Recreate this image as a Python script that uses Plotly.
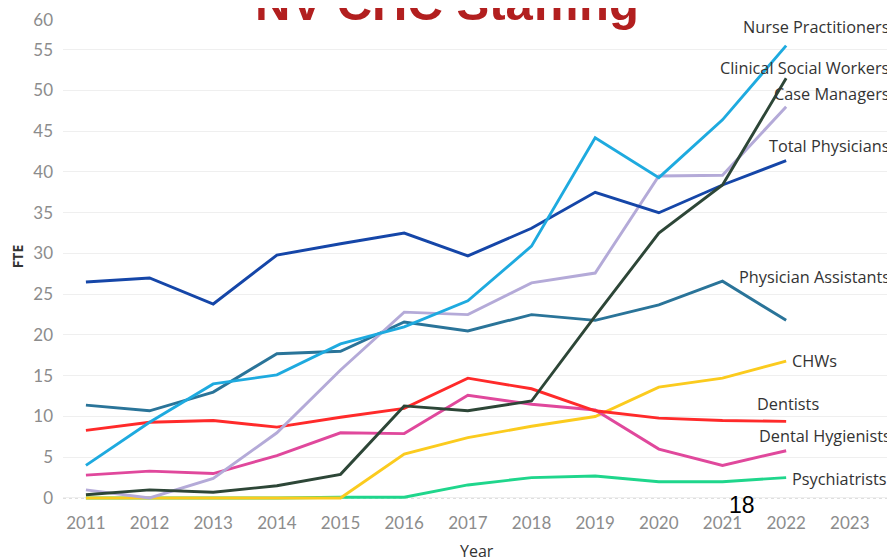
import plotly.graph_objects as go

years = list(range(2011, 2023))

total_physicians = [26.5, 27.0, 23.8, 29.8, 31.2, 32.5, 29.7, 33.1, 37.5, 35.0, 38.4, 41.4]
nurse_practitioners = [4.0, 9.3, 14.0, 15.1, 18.9, 21.0, 24.2, 30.9, 44.2, 39.3, 46.4, 55.5]
case_managers = [1.0, 0.0, 2.4, 8.0, 15.7, 22.8, 22.5, 26.4, 27.6, 39.5, 39.6, 48.0]
clinical_social_workers = [0.4, 1.0, 0.7, 1.5, 2.9, 11.3, 10.7, 11.9, 22.3, 32.5, 38.4, 51.5]
physician_assistants = [11.4, 10.7, 13.0, 17.7, 18.0, 21.6, 20.5, 22.5, 21.8, 23.7, 26.6, 21.8]
dentists = [8.3, 9.3, 9.5, 8.7, 9.9, 11.0, 14.7, 13.4, 10.7, 9.8, 9.5, 9.4]
dental_hygienists = [2.8, 3.3, 3.0, 5.2, 8.0, 7.9, 12.6, 11.5, 10.8, 6.0, 4.0, 5.8]
chws = [0.0, 0.0, 0.0, 0.0, 0.0, 5.4, 7.4, 8.8, 10.0, 13.6, 14.7, 16.8]
psychiatrists = [0.0, 0.0, 0.0, 0.0, 0.1, 0.1, 1.6, 2.5, 2.7, 2.0, 2.0, 2.5]

x_ticks = list(range(2011, 2024))
y_ticks = list(range(0, 61, 5))
y_tick_text = [str(v) for v in y_ticks]
y_tick_text[-1] = "<br>60"  # top label sits inside the pane, like Tableau does

# name, values, colour, label anchor, label offset (px)
series = [
    ("Psychiatrists", psychiatrists, "#1fd68c", "left", 4, -1),
    ("CHWs", chws, "#fbcb1e", "left", 4, 0),
    ("Dental Hygienists", dental_hygienists, "#e0489c", "left", -29, 15),
    ("Dentists", dentists, "#ff2a2a", "left", -31, 17),
    ("Physician Assistants", physician_assistants, "#2a7499", "right", 106, 43),
    ("Case Managers", case_managers, "#b4aad8", "right", 106, 13),
    ("Total Physicians", total_physicians, "#1546a8", "right", 106, 15),
    ("Nurse Practitioners", nurse_practitioners, "#1eaadf", "right", 106, 19),
    ("Clinical Social Workers", clinical_social_workers, "#2d4637", "right", 106, 10),
]

fig = go.Figure()
for name, vals, col, anchor, dx, dy in series:
    fig.add_trace(go.Scatter(x=years, y=vals, mode="lines", name=name,
                             line=dict(color=col, width=2.9)))
    fig.add_annotation(x=years[-1], y=vals[-1], text=name, showarrow=False,
                       xanchor=anchor, yanchor="middle", xshift=dx, yshift=dy,
                       font=dict(family="Open Sans", size=16.3, color="#333333"))

# zero line, dotted
fig.add_shape(type="line", xref="paper", x0=0, x1=1, yref="y", y0=0, y1=0,
              line=dict(color="#bdbdbd", width=1, dash="dot"), layer="below")

# slide title, cut off at the top like the slide
fig.add_annotation(xref="paper", yref="paper", x=0.4615, y=1.0, text="<b>NV CHC Staffing</b>",
                   showarrow=False, xanchor="center", yanchor="middle", yshift=5,
                   font=dict(family="Liberation Sans", size=49, color="#b21f1f"))

# x axis title, half off the bottom edge
fig.add_annotation(xref="paper", yref="paper", x=0.497, y=0.0, text="Year",
                   showarrow=False, xanchor="center", yanchor="top", yshift=-33,
                   font=dict(family="Open Sans", size=16, color="#333333"))

# page number from the slide
fig.add_annotation(xref="paper", yref="paper", x=0.816, y=0.0, text="18",
                   showarrow=False, xanchor="center", yanchor="middle",
                   font=dict(family="Liberation Sans", size=23, color="#000000"))

# page body has an 8px margin, so the figure is 8px smaller each way
fig.update_layout(
    width=887, height=550,
    paper_bgcolor="white", plot_bgcolor="white",
    showlegend=False,
    margin=dict(l=55, r=0, t=0, b=53, autoexpand=False),
    xaxis=dict(range=[2010.64, 2023.71], tickvals=x_ticks, showgrid=False,
               zeroline=False, showline=False, automargin=False,
               ticklabelstandoff=6,
               tickfont=dict(family="Lato", size=17, color="#8c8c8c")),
    yaxis=dict(range=[-0.86, 60.12], tickvals=y_ticks, ticktext=y_tick_text,
               showgrid=True, gridcolor="#efefef", zeroline=False, showline=False,
               automargin=False, ticklabelstandoff=9, ticklabeloverflow="allow",
               tickfont=dict(family="Lato", size=17, color="#8c8c8c"),
               title=dict(text="<b>FTE</b>", standoff=8,
                          font=dict(family="Open Sans", size=14, color="#333333"))),
)

fig.write_html("out.html")
